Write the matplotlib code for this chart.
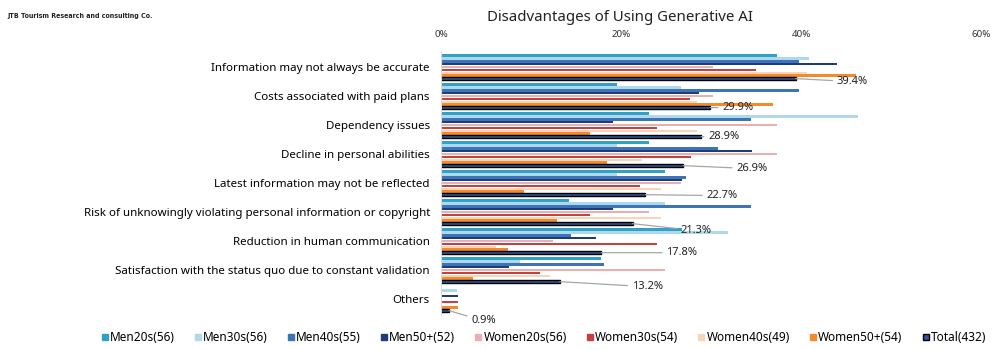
import matplotlib
matplotlib.use("Agg")
import matplotlib.pyplot as plt
from matplotlib.patches import Patch
import numpy as np

plt.rcParams['font.family'] = ['Noto Sans', 'DejaVu Sans']

# Data (percent), categories top to bottom
categories = [
    "Information may not always be accurate",
    "Costs associated with paid plans",
    "Dependency issues",
    "Decline in personal abilities",
    "Latest information may not be reflected",
    "Risk of unknowingly violating personal information or copyright",
    "Reduction in human communication",
    "Satisfaction with the status quo due to constant validation",
    "Others",
]
series_names = ["Men20s(56)", "Men30s(56)", "Men40s(55)", "Men50+(52)",
                "Women20s(56)", "Women30s(54)", "Women40s(49)", "Women50+(54)",
                "Total(432)"]

men20 = [37.3, 19.5, 23.1, 23.1, 24.9, 14.2, 26.8, 17.8, 0.0]
men30 = [40.9, 26.7, 46.3, 19.5, 19.5, 24.9, 31.9, 8.8, 1.8]
men40 = [39.8, 39.8, 34.4, 30.8, 27.2, 34.4, 14.4, 18.1, 0.0]
men50 = [44.0, 28.7, 19.1, 34.5, 26.8, 19.1, 17.2, 7.6, 1.9]
women20 = [30.2, 30.2, 37.3, 37.3, 26.7, 23.1, 12.4, 24.9, 0.0]
women30 = [35.0, 27.7, 24.0, 27.8, 22.1, 16.6, 24.0, 11.0, 1.9]
women40 = [40.7, 28.4, 28.4, 22.3, 24.4, 24.4, 6.1, 12.1, 0.0]
women50 = [46.1, 36.9, 16.6, 18.4, 9.2, 12.9, 7.4, 3.6, 1.9]
total = [39.4, 29.9, 28.9, 26.9, 22.7, 21.3, 17.8, 13.2, 0.9]

all_series = [men20, men30, men40, men50, women20, women30, women40, women50, total]
colors = ["#31A2C6", "#ADD9EA", "#3C73B9", "#1F3C7A",
          "#EBAFAF", "#C83F3F", "#FBD3B6", "#F58A2B", "#2F5597"]

# label offsets for the Total labels (pixels from bar end)
label_offsets = [(41, -3), (12, 0), (7, 0), (53, -3), (61, -1),
                 (48, -7), (65, 0), (72, -5), (22, -10)]

fig = plt.figure(figsize=(10, 3.5), dpi=100)
ax = fig.add_axes([0.441, 0.104, 0.54, 0.746])

y = np.arange(len(categories))
h = 0.1
for j, (vals, col) in enumerate(zip(all_series, colors)):
    pos = y + (j - 4) * h
    if j == len(all_series) - 1:
        ax.barh(pos, vals, height=h, color=col, edgecolor="black", linewidth=1.0)
    else:
        ax.barh(pos, vals, height=h * 0.9, color=col, linewidth=0)

# Total labels with leader lines
for i, v in enumerate(total):
    dx, dy = label_offsets[i]
    ax.annotate(f"{v:.1f}%", xy=(v, y[i] + 4 * h), xytext=(dx, dy),
                textcoords="offset pixels", ha="left", va="center",
                fontsize=8, color="#222222",
                arrowprops=dict(arrowstyle="-", color="#a6a6a6", lw=0.9,
                                shrinkA=1, shrinkB=0))

ax.set_xlim(0, 60)
ax.set_ylim(len(categories) - 0.5, -0.5)
ax.set_xticks([0, 20, 40, 60])
ax.set_xticklabels(["0%", "20%", "40%", "60%"])
ax.xaxis.tick_top()
ax.tick_params(axis="x", length=0, pad=10, labelsize=7, labelcolor="#333333")
ax.set_yticks(y)
ax.set_yticklabels(categories, fontsize=8.3)
ax.tick_params(axis="y", length=0, pad=8)
for s in ["top", "right", "bottom"]:
    ax.spines[s].set_visible(False)
ax.spines["left"].set_color("#d9d9d9")

fig.text(0.62, 0.95, "Disadvantages of Using Generative AI", ha="center",
         va="center", fontsize=10.8, color="#222222")
fig.text(0.007, 0.955, "JTB Tourism Research and consulting Co.", ha="left",
         va="center", fontsize=5, fontweight="bold", fontstretch="condensed",
         family="DejaVu Sans", color="#222222")

handles = [Patch(facecolor=c, edgecolor=("black" if k == 8 else c))
           for k, c in enumerate(colors)]
fig.legend(handles, series_names, loc="center", bbox_to_anchor=(0.544, 0.035),
           ncol=9, frameon=False, fontsize=8.5, handlelength=0.5, handleheight=0.5,
           handletextpad=0.2, columnspacing=1.7)

fig.savefig("out.png", dpi=100)
